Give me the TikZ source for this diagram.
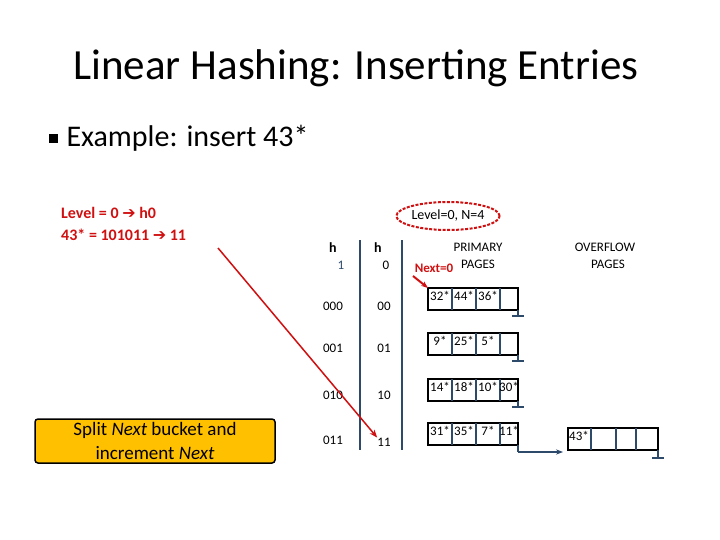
\documentclass[tikz,border=0pt]{standalone}
\usepackage{fontspec}
\setmainfont{Carlito}
\newfontfamily\dejavu{DejaVu Sans}
\usetikzlibrary{arrows.meta,shapes.geometric}
\definecolor{lineblue}{HTML}{2E4A6B}
\definecolor{myred}{HTML}{D01010}
\definecolor{orng}{HTML}{FFC000}
\begin{document}
\begin{tikzpicture}[x=1pt,y=-1pt,
  lbl/.style={font=\fontsize{13}{15}\selectfont,inner sep=0pt},
  cellbox/.style={draw=black,line width=1.2pt,minimum width=24pt,minimum height=22pt,inner sep=0pt,outer sep=0pt,anchor=north west},
  stub/.style={draw=lineblue,line width=1.2pt}]
\useasboundingbox (0,0) rectangle (720,540);
\node[font=\fontsize{43}{48}\selectfont] (title) at (356,68) {Linear Hashing: Inserting Entries};
\node[font=\fontsize{30}{34}\selectfont,anchor=west] (bul) at (45,138) {\raisebox{3pt}{\rule{9pt}{9pt}}\hspace{9pt}Example: insert 43*};
\node[font=\bfseries\fontsize{16}{18}\selectfont,text=myred,anchor=west,inner sep=0pt] (t1) at (61,213) {Level = 0 {\dejavu ➔} h0};
\node[font=\bfseries\fontsize{16}{18}\selectfont,text=myred,anchor=west,inner sep=0pt] (t2) at (61,235) {43* = 101011 {\dejavu ➔} 11};
\node[draw=black,line width=1.5pt,fill=orng,rounded corners=3pt,minimum width=240pt,minimum height=43pt,align=center,font=\fontsize{19}{24}\selectfont] (split) at (155,441) {Split \textit{Next} bucket and\\increment \textit{Next}};
% ellipse
\node[draw=myred,dash pattern=on 3pt off 1.5pt,line width=2pt,ellipse,minimum width=94pt,minimum height=28pt,inner sep=0pt,font=\fontsize{14}{15}\selectfont] (lev) at (448,216) {Level=0, N=4};
% lines
\coordinate (v1t) at (360,240); \coordinate (v1b) at (360,450);
\coordinate (v2t) at (402,240); \coordinate (v2b) at (402,450);
\draw[lineblue,line width=1.5pt] (v1t) -- (v1b);
\draw[lineblue,line width=2pt] (v2t) -- (v2b);
\node[lbl,font=\bfseries\fontsize{14}{15}\selectfont] (h1) at (333,248) {h};
\node[lbl,text=lineblue] (one) at (341,265) {1};
\node[lbl,font=\bfseries\fontsize{14}{15}\selectfont] (h0) at (378,248) {h};
\node[lbl] (zero) at (386,265) {0};
\node[lbl] (r1a) at (333,306) {000}; \node[lbl] (r1b) at (384,306) {00};
\node[lbl] (r2a) at (333,348) {001}; \node[lbl] (r2b) at (384,348) {01};
\node[lbl] (r3a) at (333,395) {010}; \node[lbl] (r3b) at (384,395) {10};
\node[lbl] (r4a) at (333,440) {011}; \node[lbl] (r4b) at (384,442) {11};
\node[lbl,font=\fontsize{13}{17}\selectfont,align=center] (prim) at (478,256) {PRIMARY\\PAGES};
\node[lbl,font=\fontsize{13}{17}\selectfont,align=center] (ovf) at (605,256) {OVERFLOW\\\ \ PAGES};
\node[lbl,text=myred,font=\bfseries\fontsize{13}{15}\selectfont] (next) at (434,268) {Next=0};
% buckets
\foreach \r/\y/\a/\b/\c/\d in {1/288/32*/44*/36*/, 2/333/9*/25*/5*/, 3/379/14*/18*/10*/30*, 4/423/31*/35*/7*/11*}{
  \node[cellbox,minimum width=90pt] (b\r) at (428,\y) {};
  \foreach \xx in {452,476,500} \draw[lineblue,line width=1.2pt] (\xx,\y) -- ++(0,22);
  \node[lbl,anchor=north] at (440,\y+3) {\a};
  \node[lbl,anchor=north] at (464,\y+3) {\b};
  \node[lbl,anchor=north] at (488,\y+3) {\c};
  \node[lbl,anchor=north] at (509,\y+3) {\d};
}
\foreach \r in {1,2,3}{
  \draw[stub] (b\r.south east) -- ++(0,6) coordinate (s\r);
  \draw[stub] ([xshift=-6pt]s\r) -- ([xshift=6pt]s\r);
}
\node[cellbox,minimum width=90pt] (ov) at (568,428) {};
\foreach \xx in {591,616,636} \draw[lineblue,line width=1.2pt] (\xx,428) -- ++(0,22);
\node[lbl,anchor=north] at (579,431) {43*};
\draw[stub] (ov.south east) -- ++(0,8) coordinate (so);
\draw[stub] ([xshift=-6pt]so) -- ([xshift=6pt]so);
\coordinate (c4) at (518,452);
\coordinate (c5) at (563,452);
\draw[stub] (b4.south east) -- (c4);
\draw[stub,-{Stealth[length=7pt]}] (c4) -- (c5);
% red arrows
\coordinate (rs) at (218,248);
\draw[myred,line width=1.5pt,-{Stealth[length=8pt]}] (rs) -- (r4b.north west);
\draw[myred,line width=2pt,-{Stealth[length=7pt]}] (413,276) -- (b1.north west);
\end{tikzpicture}
\end{document}
